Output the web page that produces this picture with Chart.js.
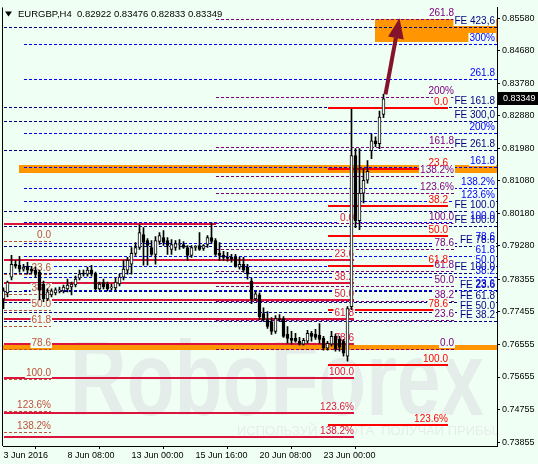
<!DOCTYPE html>
<html>
<head>
<meta charset="utf-8">
<script src="https://cdn.jsdelivr.net/npm/chart.js@4.4.1/dist/chart.umd.min.js"></script>
<style>
  html, body { margin: 0; padding: 0; background: #f0fff4; }
  canvas { display: block; }
</style>
</head>
<body>
<canvas id="chart" width="538" height="464"></canvas>
<script>
// EURGBP H4 candles, bar index 0 = 3 Jun 2016 16:00
const opens = [
  0.77818, 0.77982, 0.78420, 0.78775, 0.78748, 0.78638, 0.78720, 0.78638, 0.78611, 0.78556,
  0.78228, 0.77818, 0.77928, 0.77982, 0.78037, 0.78037, 0.78092, 0.78146, 0.78201, 0.78392,
  0.78529, 0.78502, 0.78611, 0.78502, 0.78092, 0.78283, 0.78228, 0.78119, 0.78119, 0.78228,
  0.78420, 0.78611, 0.78775, 0.79076, 0.79239, 0.79595, 0.79431, 0.79239, 0.79048, 0.79403,
  0.79513, 0.79431, 0.79185, 0.79239, 0.79321, 0.79321, 0.79239, 0.79021, 0.79239, 0.79294,
  0.79212, 0.79321, 0.79513, 0.79431, 0.79076, 0.79021, 0.78966, 0.78966, 0.78966, 0.78693,
  0.78775, 0.78693, 0.78310, 0.77818, 0.77928, 0.77408, 0.77244, 0.77190, 0.76916, 0.77272,
  0.77272, 0.76834, 0.76725, 0.76725, 0.76643, 0.76561, 0.76643, 0.76862, 0.76834, 0.76807,
  0.76725, 0.76452, 0.76561, 0.76780, 0.76698, 0.76643, 0.76233, 0.77600, 0.81781, 0.79977,
  0.80743, 0.81098, 0.81918, 0.82191, 0.82109, 0.82922
];
const highs = [
  0.78119, 0.78310, 0.79021, 0.78884, 0.78994, 0.78775, 0.78830, 0.78720, 0.78693, 0.78611,
  0.78310, 0.78092, 0.78092, 0.78119, 0.78146, 0.78201, 0.78365, 0.78283, 0.78447, 0.78611,
  0.78611, 0.78693, 0.78748, 0.78556, 0.78283, 0.78365, 0.78283, 0.78228, 0.78392, 0.78502,
  0.78884, 0.78966, 0.79239, 0.79376, 0.79868, 0.79786, 0.79485, 0.79431, 0.79540, 0.79649,
  0.79704, 0.79513, 0.79458, 0.79431, 0.79458, 0.79403, 0.79294, 0.79294, 0.79294, 0.79649,
  0.79321, 0.79567, 0.79923, 0.79485, 0.79376, 0.79130, 0.79103, 0.79048, 0.79048, 0.78966,
  0.78966, 0.78775, 0.78392, 0.78010, 0.77982, 0.77572, 0.77463, 0.77299, 0.77354, 0.77381,
  0.77326, 0.77053, 0.76916, 0.76862, 0.76752, 0.76725, 0.76944, 0.76916, 0.76971, 0.77135,
  0.76780, 0.76643, 0.76916, 0.76834, 0.76780, 0.76698, 0.77600, 0.83066, 0.81972, 0.81972,
  0.81426, 0.81644, 0.82382, 0.82300, 0.83011, 0.83476
];
const lows = [
  0.77545, 0.77873, 0.78338, 0.78666, 0.78556, 0.78584, 0.78502, 0.78529, 0.78420, 0.77791,
  0.77736, 0.77764, 0.77873, 0.77928, 0.77982, 0.77982, 0.78010, 0.77928, 0.78146, 0.78338,
  0.78447, 0.78447, 0.78447, 0.78064, 0.78064, 0.78092, 0.78037, 0.78064, 0.78064, 0.78174,
  0.78338, 0.78502, 0.78502, 0.79021, 0.79185, 0.78748, 0.78748, 0.79021, 0.78775, 0.79321,
  0.79294, 0.79048, 0.79048, 0.79158, 0.79185, 0.79212, 0.78884, 0.78966, 0.79158, 0.79158,
  0.79158, 0.79239, 0.79349, 0.79021, 0.78884, 0.78884, 0.78857, 0.78830, 0.78693, 0.78638,
  0.78556, 0.78365, 0.77682, 0.77764, 0.77244, 0.77190, 0.76998, 0.76834, 0.76862, 0.77190,
  0.76752, 0.76588, 0.76561, 0.76616, 0.76534, 0.76534, 0.76588, 0.76643, 0.76698, 0.76588,
  0.76397, 0.76397, 0.76506, 0.76370, 0.76370, 0.76233, 0.76096, 0.77518, 0.79786, 0.79731,
  0.80469, 0.81016, 0.81699, 0.82027, 0.81972, 0.82833
];
const closes = [
  0.78037, 0.78283, 0.78775, 0.78720, 0.78638, 0.78693, 0.78611, 0.78584, 0.78502, 0.78064,
  0.77818, 0.78010, 0.78037, 0.78064, 0.78064, 0.78146, 0.78201, 0.78228, 0.78365, 0.78502,
  0.78502, 0.78611, 0.78502, 0.78092, 0.78228, 0.78146, 0.78092, 0.78146, 0.78283, 0.78420,
  0.78638, 0.78884, 0.79076, 0.79239, 0.79649, 0.79376, 0.79294, 0.79048, 0.79431, 0.79567,
  0.79376, 0.79294, 0.79321, 0.79349, 0.79349, 0.79239, 0.79021, 0.79239, 0.79267, 0.79185,
  0.79294, 0.79513, 0.79403, 0.79048, 0.79021, 0.78966, 0.78939, 0.78912, 0.78720, 0.78775,
  0.78611, 0.78502, 0.77818, 0.77955, 0.77326, 0.77244, 0.77053, 0.76916, 0.77272, 0.77244,
  0.76780, 0.76725, 0.76670, 0.76643, 0.76561, 0.76670, 0.76862, 0.76780, 0.76752, 0.76698,
  0.76452, 0.76588, 0.76780, 0.76424, 0.76479, 0.76315, 0.77545, 0.81781, 0.79977, 0.80743,
  0.81098, 0.81344, 0.82191, 0.82109, 0.82847, 0.83349
];

const timeTicks = [0, 16, 32, 48, 64, 80];
const timeLabels = ['3 Jun 2016', '8 Jun 08:00', '13 Jun 00:00', '15 Jun 16:00', '20 Jun 08:00', '23 Jun 00:00'];
const priceTicks = [0.85580, 0.84680, 0.83780, 0.82880, 0.81980, 0.81080, 0.80180,
                    0.79280, 0.78355, 0.77455, 0.76555, 0.75655, 0.74755, 0.73855];

// Fibonacci levels
const retraceLabels = ['0.0', '23.6', '38.2', '50.0', '61.8', '78.6', '100.0', '123.6%', '138.2%'];
const crimsonLevels = [0.79895, 0.78884, 0.78256, 0.77791, 0.77272, 0.76561, 0.75632, 0.74648, 0.73992];
const brownLevels = [0.79431, 0.78502, 0.77955, 0.77518, 0.77053, 0.76424, 0.75605, 0.74703, 0.74129];
const redLevels = [0.83093, 0.81399, 0.80387, 0.79567, 0.78720, 0.77518, 0.75987, 0.74320];
const redLabels = ['0.0', '23.6', '38.2', '50.0', '61.8', '78.6', '100.0', '123.6%'];
const purpleLevels = [0.76424, 0.77244, 0.77764, 0.78174, 0.78584, 0.79185, 0.79923, 0.80743,
                      0.81207, 0.82027, 0.83394, 0.85553];
const purpleLabels = ['0.0', '23.6', '38.2', '50.0', '61.8', '78.6', '100.0', '123.6%',
                      '138.2%', '161.8', '200%', '261.8'];
const blueLevels = [0.84869, 0.83913, 0.82410, 0.81453, 0.80879, 0.80524, 0.79950, 0.79349,
                    0.78993, 0.78720, 0.78420, 0.78064];
const blueLabels = ['300%', '261.8', '200%', '161.8', '138.2%', '123.6%', '100.0', '78.6',
                    '61.8', '50.0', '38.2', '23.6'];
const navyLevels = [0.85334, 0.83120, 0.82738, 0.81945, 0.80251, 0.79841, 0.79267, 0.78529,
                    0.78037, 0.77736, 0.77463, 0.77217];
const navyLabels = ['FE 423,6', 'FE 161.8', 'FE 300,0', 'FE 261.8', 'FE 100.0', 'FE 100.0',
                    'FE 78.6', 'FE 100.0', 'FE 23.6', 'FE 61.8', 'FE 50.0', 'FE 38.2'];

// orange zones: start bar, top price, bottom price
const zoneFrom = [93, 4, 0];
const zoneTop = [0.85553, 0.81508, 0.76547];
const zoneBottom = [0.84924, 0.81289, 0.76397];

const arrowStart = [95.5, 0.83476];
const arrowEnd = [99, 0.85580];

const BG = '#f0fff4';

const levelSets = [
  {values: navyLevels, labels: navyLabels, from: 0, to: null, color: '#000080', width: 1, dash: [3, 2]},
  {values: blueLevels, labels: blueLabels, from: 5, to: null, color: '#0000ff', width: 1, dash: [3, 2]},
  {values: brownLevels, labels: retraceLabels, from: 0, to: 11.75, color: '#c0503a', width: 1, dash: [3, 2]},
  {values: purpleLevels, labels: purpleLabels, from: 53, to: 113, labelAt: 112.5, color: '#800080', width: 1, dash: [3, 2]},
  {values: crimsonLevels, labels: retraceLabels, from: 0, to: 87.5, cut: {0: 53}, color: '#dc143c', width: 2, dash: []},
  {values: redLevels, labels: redLabels, from: 81, to: 111, color: '#ff0000', width: 2, dash: []}
];

const bodies = opens.map((o, i) => ({x: i, y: [o, closes[i]]}));
const wicks = highs.map((h, i) => ({x: i, y: [lows[i], h]}));

const overlay = {
  id: 'overlay',
  beforeDatasetsDraw(chart) {
    const {ctx, chartArea: a, scales: {x, y}} = chart;
    ctx.save();
    ctx.beginPath();
    ctx.rect(a.left, a.top, a.right - a.left, a.bottom - a.top);
    ctx.clip();

    // watermark
    ctx.save();
    ctx.fillStyle = '#e5edeb';
    ctx.font = 'bold 106px "Liberation Sans"';
    ctx.textBaseline = 'alphabetic';
    ctx.translate(a.left + 67, a.top + 408);
    ctx.scale(0.74, 1);
    ctx.fillText('RoboForex', 0, 0);
    ctx.restore();
    ctx.fillStyle = '#e5edeb';
    ctx.font = '13px "Liberation Sans"';
    ctx.fillText('ИСПОЛЬЗУЙ РОБОТА  ПОЛУЧАЙ ПРИБЫЛЬ', a.left + 234, a.top + 428);

    // zones
    ctx.fillStyle = '#ff9500';
    zoneTop.forEach((t, i) => {
      const x1 = Math.round(x.getPixelForValue(zoneFrom[i]) - 0.5);
      const y1 = Math.round(y.getPixelForValue(t));
      const y2 = Math.round(y.getPixelForValue(zoneBottom[i]));
      ctx.fillRect(x1, y1, a.right - x1, y2 - y1);
    });

    // level lines
    levelSets.forEach(s => {
      ctx.strokeStyle = s.color;
      ctx.lineWidth = s.width;
      ctx.setLineDash(s.dash);
      s.values.forEach((v, i) => {
        let yy = Math.round(y.getPixelForValue(v));
        if (s.width % 2) yy += 0.5;
        const x1 = Math.round(x.getPixelForValue(s.from));
        const end = s.cut && s.cut[i] !== undefined ? s.cut[i] : s.to;
        const x2 = end === null ? a.right : Math.round(x.getPixelForValue(end));
        ctx.beginPath();
        ctx.moveTo(x1, yy);
        ctx.lineTo(x2, yy);
        ctx.stroke();
      });
    });
    ctx.setLineDash([]);

    // labels: backgrounds first, then text
    ctx.font = '10px "Liberation Sans"';
    const items = [];
    levelSets.forEach(s => {
      const at = s.labelAt !== undefined ? s.labelAt : s.to;
      const rx = at === null ? a.right - 2 : Math.round(x.getPixelForValue(at));
      s.values.forEach((v, i) => {
        const yy = Math.round(y.getPixelForValue(v));
        items.push({text: s.labels[i], rx, yy, color: s.color});
      });
    });
    ctx.fillStyle = BG;
    items.forEach(it => {
      const w = ctx.measureText(it.text).width;
      ctx.fillRect(it.rx - w - 1, it.yy - 11, w + 2, 10);
    });
    ctx.textAlign = 'right';
    ctx.textBaseline = 'bottom';
    items.forEach(it => {
      ctx.fillStyle = it.color;
      ctx.fillText(it.text, it.rx, it.yy - 1);
    });
    ctx.restore();
  },
  afterDatasetsDraw(chart) {
    const {ctx, chartArea: a, scales: {x, y}} = chart;
    ctx.save();
    ctx.beginPath();
    ctx.rect(a.left, a.top, a.right - a.left, a.bottom - a.top);
    ctx.clip();
    const x1 = x.getPixelForValue(arrowStart[0]), y1 = y.getPixelForValue(arrowStart[1]);
    const x2 = x.getPixelForValue(arrowEnd[0]), y2 = y.getPixelForValue(arrowEnd[1]);
    const ang = Math.atan2(y2 - y1, x2 - x1);
    const head = 20, hw = 8;
    const bx = x2 - head * Math.cos(ang), by = y2 - head * Math.sin(ang);
    ctx.strokeStyle = '#84142a';
    ctx.fillStyle = '#84142a';
    ctx.lineWidth = 4;
    ctx.beginPath();
    ctx.moveTo(x1, y1);
    ctx.lineTo(bx, by);
    ctx.stroke();
    ctx.beginPath();
    ctx.moveTo(x2, y2);
    ctx.lineTo(bx + hw * Math.sin(ang), by - hw * Math.cos(ang));
    ctx.lineTo(bx - hw * Math.sin(ang), by + hw * Math.cos(ang));
    ctx.closePath();
    ctx.fill();
    ctx.restore();
  },
  afterDraw(chart) {
    const {ctx, chartArea: a, scales: {y}} = chart;
    ctx.save();
    // left frame line
    ctx.strokeStyle = '#000';
    ctx.lineWidth = 1;
    ctx.beginPath();
    ctx.moveTo(a.left - 0.5, a.top);
    ctx.lineTo(a.left - 0.5, a.bottom);
    ctx.stroke();
    // title
    const last = closes.length - 1;
    ctx.fillStyle = '#000';
    ctx.beginPath();
    ctx.moveTo(a.left + 2, a.top + 4);
    ctx.lineTo(a.left + 9, a.top + 4);
    ctx.lineTo(a.left + 5.5, a.top + 9);
    ctx.closePath();
    ctx.fill();
    ctx.font = '9.5px "Liberation Sans"';
    ctx.textBaseline = 'middle';
    ctx.fillText('EURGBP,H4  ' + opens[last].toFixed(5) + ' ' + highs[last].toFixed(5) + ' ' +
      lows[last].toFixed(5) + ' ' + closes[last].toFixed(5), a.left + 15, a.top + 7);
    // current price box
    const py = Math.round(y.getPixelForValue(closes[last]));
    ctx.fillStyle = '#000';
    ctx.fillRect(a.right + 1, py - 7, 40, 13);
    ctx.fillStyle = '#fff';
    ctx.font = '9px "Liberation Sans"';
    ctx.fillText(closes[last].toFixed(5), a.right + 6, py);
    ctx.restore();
  }
};

new Chart(document.getElementById('chart'), {
  data: {
    datasets: [
      {
        type: 'bar',
        data: bodies,
        barThickness: 3,
        grouped: false,
        borderSkipped: false,
        minBarLength: 1,
        borderWidth: 1,
        borderColor: '#000',
        backgroundColor: ctx => closes[ctx.dataIndex] >= opens[ctx.dataIndex] ? '#ffffff' : '#000000',
        order: 0
      },
      {
        type: 'bar',
        data: wicks,
        barThickness: 1,
        grouped: false,
        borderWidth: 0,
        backgroundColor: '#000',
        order: 1
      }
    ]
  },
  options: {
    responsive: false,
    animation: false,
    devicePixelRatio: 1,
    layout: {padding: {left: 3, top: 2, right: 0, bottom: 0}},
    plugins: {legend: {display: false}, tooltip: {enabled: false}},
    scales: {
      x: {
        type: 'linear',
        position: 'bottom',
        min: -0.125,
        max: 123.375,
        offset: false,
        afterBuildTicks: s => { s.ticks = timeTicks.map(v => ({value: v})); },
        afterFit: s => { s.height = 18; },
        grid: {display: true, drawOnChartArea: false, drawTicks: true, tickLength: 3, color: '#000'},
        border: {display: true, color: '#000'},
        ticks: {
          autoSkip: false,
          maxRotation: 0,
          align: 'start',
          padding: 1,
          color: '#000',
          font: {family: 'Liberation Sans', size: 9},
          callback: v => timeLabels[timeTicks.indexOf(v)]
        }
      },
      y: {
        type: 'linear',
        position: 'right',
        min: 0.73746,
        max: 0.85881,
        afterBuildTicks: s => { s.ticks = priceTicks.map(v => ({value: v})); },
        afterFit: s => { s.width = 41; },
        grid: {display: true, drawOnChartArea: false, drawTicks: true, tickLength: 3, color: '#000'},
        border: {display: true, color: '#000'},
        ticks: {
          padding: 2,
          color: '#000',
          font: {family: 'Liberation Sans', size: 9},
          callback: v => v.toFixed(5)
        }
      }
    }
  },
  plugins: [overlay]
});
</script>
</body>
</html>
